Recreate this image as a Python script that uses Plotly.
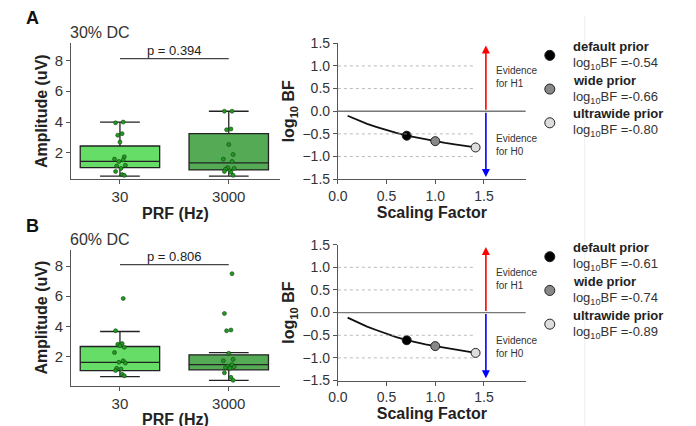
import plotly.graph_objects as go

W, H = 696, 426
prf_labels = ["30", "3000"]
# Panel A (30% DC) points
a30 = [4.0, 3.95, 3.25, 3.15, 2.7, 1.75, 1.6, 1.55, 1.45, 1.2, 1.15, 1.0, 0.8, 0.6, 0.55]
a3000 = [4.7, 4.7, 3.55, 3.5, 2.55, 1.9, 1.6, 1.45, 1.05, 1.0, 0.95, 0.85, 0.8, 0.75, 0.55]
# Panel B (60% DC) points
b30 = [5.85, 3.7, 2.85, 2.8, 2.7, 2.6, 2.25, 1.7, 1.6, 1.55, 1.2, 1.15, 1.05, 0.8, 0.7]
b3000 = [7.5, 4.85, 3.75, 3.7, 2.2, 1.8, 1.7, 1.45, 1.35, 1.3, 1.25, 1.2, 0.9, 0.6, 0.4]
jit = [0.03, -0.04, 0.02, -0.02, 0.0, 0.04, -0.05, 0.03, -0.01, 0.05, -0.03, 0.01, -0.04, 0.02, 0.04]
# box stats: lowerfence, q1, median, q3, upperfence
boxA = [[0.5, 1.05, 1.45, 2.45, 4.0], [0.5, 0.9, 1.35, 3.25, 4.7]]
boxB = [[0.65, 1.05, 1.6, 2.65, 3.65], [0.4, 1.1, 1.45, 2.1, 2.25]]
pvals = ["p = 0.394", "p = 0.806"]
dc_labels = ["30% DC", "60% DC"]
# BF robustness curves
scale_x = [0.1, 0.2, 0.3, 0.4, 0.5, 0.6, 0.707, 0.8, 0.9, 1.0, 1.1, 1.2, 1.3, 1.414]
curveA = [-0.1, -0.19, -0.28, -0.35, -0.42, -0.48, -0.54, -0.58, -0.62, -0.66, -0.70, -0.73, -0.77, -0.80]
curveB = [-0.11, -0.21, -0.31, -0.39, -0.47, -0.54, -0.61, -0.66, -0.70, -0.74, -0.78, -0.82, -0.86, -0.89]
prior_x = [0.707, 1.0, 1.414]
priorA = [-0.54, -0.66, -0.80]
priorB = [-0.61, -0.74, -0.89]
prior_names = ["default prior", "wide prior", "ultrawide prior"]
prior_colors = ["#000000", "#888888", "#dddddd"]
box_colors = ["#66dd66", "#55aa55"]

fig = go.Figure()
def px(x): return min(max(((x - 16) / 0.986) / W, 0), 1)
def py(y): return min(max(1 - ((y - 15.9) / 0.956) / H, 0), 1)

panels = [
    dict(pts=[a30, a3000], box=boxA, p=pvals[0], dc=dc_labels[0], curve=curveA, prior=priorA,
         ly=(43, 178), ry=(43, 178), letter="A", ltop=18),
    dict(pts=[b30, b3000], box=boxB, p=pvals[1], dc=dc_labels[1], curve=curveB, prior=priorB,
         ly=(248, 383), ry=(243, 378), letter="B", ltop=224),
]
lay = {}
ann = []
shapes = []
for i, P in enumerate(panels):
    xl = "x" + ("" if i == 0 else str(2 * i + 1))
    yl = "y" + ("" if i == 0 else str(2 * i + 1))
    xr = "x" + str(2 * i + 2)
    yr = "y" + str(2 * i + 2)
    yrange = [0.3, 9.1] if i == 0 else [0.05, 9.1]
    lay["xaxis" + xl[1:]] = dict(domain=[px(69), px(278)], anchor=yl, range=[-0.45, 1.47],
        tickvals=[0, 1], ticktext=prf_labels, showline=True, linecolor="#555", ticks="outside",
        ticklen=4, tickcolor="#555", showgrid=False, zeroline=False,
        tickfont=dict(size=15, color="#333"),
        title=dict(text="<b>PRF (Hz)</b>", font=dict(size=16, color="#222"), standoff=3))
    lay["yaxis" + yl[1:]] = dict(domain=[py(P["ly"][1]), py(P["ly"][0])], anchor=xl, range=yrange,
        tickvals=[2, 4, 6, 8], showline=True, linecolor="#555", ticks="outside", ticklen=4,
        tickcolor="#555", showgrid=False, zeroline=False, tickfont=dict(size=15, color="#333"),
        title=dict(text="<b>Amplitude (uV)</b>", font=dict(size=16, color="#222"), standoff=3))
    lay["xaxis" + xr[1:]] = dict(domain=[px(336), px(524)], anchor=yr, range=[0, 1.93],
        tickvals=[0, 0.5, 1.0, 1.5], ticktext=["0.0", "0.5", "1.0", "1.5"], showline=True,
        linecolor="#555", ticks="outside", ticklen=4, tickcolor="#555", showgrid=False,
        zeroline=False, tickfont=dict(size=14, color="#333"),
        title=dict(text="<b>Scaling Factor</b>", font=dict(size=16, color="#222"), standoff=1))
    lay["yaxis" + yr[1:]] = dict(domain=[py(P["ry"][1]), py(P["ry"][0])], anchor=xr, range=[-1.5, 1.5],
        tickvals=[-1.5, -1, -0.5, 0, 0.5, 1, 1.5],
        ticktext=["−1.5", "−1.0", "−0.5", "0.0", "0.5", "1.0", "1.5"], showline=True,
        linecolor="#555", ticks="outside", ticklen=4, tickcolor="#555", showgrid=False,
        zeroline=False, tickfont=dict(size=14, color="#333"),
        title=dict(text="<b>log<sub>10</sub> BF</b>", font=dict(size=16, color="#222"), standoff=3))
    for k in range(2):
        b = P["box"][k]
        fig.add_trace(go.Box(x=[k], lowerfence=[b[0]], q1=[b[1]], median=[b[2]], q3=[b[3]],
            upperfence=[b[4]], width=0.73, fillcolor=box_colors[k], line=dict(color="#222", width=1.3),
            whiskerwidth=0.5, boxpoints=False, xaxis=xl, yaxis=yl, showlegend=False))
        fig.add_trace(go.Scatter(x=[k + j for j in jit], y=P["pts"][k], mode="markers",
            marker=dict(size=4, color="#229922", line=dict(color="#114411", width=0.6)),
            xaxis=xl, yaxis=yl, showlegend=False))
    shapes.append(dict(type="line", xref=xl, yref=yl, x0=0, x1=1, y0=8.1, y1=8.1,
                       line=dict(color="#444", width=1.3)))
    ann.append(dict(xref=xl, yref=yl, x=0.5, y=8.0, text=P["p"], showarrow=False, yanchor="bottom",
                    font=dict(size=13, color="#222")))
    ann.append(dict(xref="paper", yref="paper", x=px(66), y=py(P["ltop"] + 14), text=P["dc"],
                    showarrow=False, xanchor="left", yanchor="middle", font=dict(size=16, color="#333")))
    ann.append(dict(xref="paper", yref="paper", x=px(22), y=py(P["ltop"]), text="<b>" + P["letter"] + "</b>",
                    showarrow=False, xanchor="left", yanchor="middle", font=dict(size=18, color="#111")))
    for g in [-1, -0.5, 0.5, 1]:
        shapes.append(dict(type="line", xref=xr, yref=yr, x0=0, x1=1.41, y0=g, y1=g,
                           line=dict(color="#aaa", width=0.8, dash="dot")))
    shapes.append(dict(type="line", xref=xr, yref=yr, x0=0, x1=1.93, y0=0, y1=0,
                       line=dict(color="#777", width=1.3)))
    fig.add_trace(go.Scatter(x=scale_x, y=P["curve"], mode="lines", line=dict(color="#111", width=1.8),
                             xaxis=xr, yaxis=yr, showlegend=False))
    fig.add_trace(go.Scatter(x=prior_x, y=P["prior"], mode="markers",
        marker=dict(size=9, color=prior_colors, line=dict(color="#222", width=1)),
        xaxis=xr, yaxis=yr, showlegend=False))
    ann.append(dict(xref=xr, yref=yr, ax=1.52, ay=0, axref=xr, ayref=yr, x=1.52, y=1.45, text="",
                    showarrow=True, arrowhead=2, arrowsize=1, arrowwidth=1.6, arrowcolor="red"))
    ann.append(dict(xref=xr, yref=yr, ax=1.52, ay=0, axref=xr, ayref=yr, x=1.52, y=-1.45, text="",
                    showarrow=True, arrowhead=2, arrowsize=1, arrowwidth=1.6, arrowcolor="blue"))
    ann.append(dict(xref=xr, yref=yr, x=1.6, y=0.75, text="Evidence<br>for H1", showarrow=False,
                    xanchor="left", align="left", font=dict(size=10, color="#333")))
    ann.append(dict(xref=xr, yref=yr, x=1.6, y=-0.75, text="Evidence<br>for H0", showarrow=False,
                    xanchor="left", align="left", font=dict(size=10, color="#333")))
    top = P["ry"][0]
    for k in range(3):
        yy = top + 12 + k * 33.5
        shapes.append(dict(type="circle", xref="paper", yref="paper",
            x0=px(543), x1=px(553), y0=py(yy + 5), y1=py(yy - 5),
            fillcolor=prior_colors[k], line=dict(color="#222", width=1)))
        ann.append(dict(xref="paper", yref="paper", x=px(569), y=py(yy - 9),
            text="<b>" + prior_names[k] + "</b>", showarrow=False, xanchor="left", yanchor="middle",
            font=dict(size=13, color="#222")))
        ann.append(dict(xref="paper", yref="paper", x=px(569), y=py(yy + 8),
            text="log<sub>10</sub>BF =%.2f" % P["prior"][k], showarrow=False, xanchor="left",
            yanchor="middle", font=dict(size=13, color="#333")))

shapes.append(dict(type="line", xref="paper", yref="paper", x0=px(583), x1=px(583), y0=0, y1=1,
                   line=dict(color="#eee", width=1)))
fig.update_layout(width=W, height=H, margin=dict(l=0, r=0, t=0, b=0), plot_bgcolor="white",
                  paper_bgcolor="white", font=dict(family="Liberation Sans, Arial", color="#222"),
                  annotations=ann, shapes=shapes, **lay)
fig.write_html("out.html")
